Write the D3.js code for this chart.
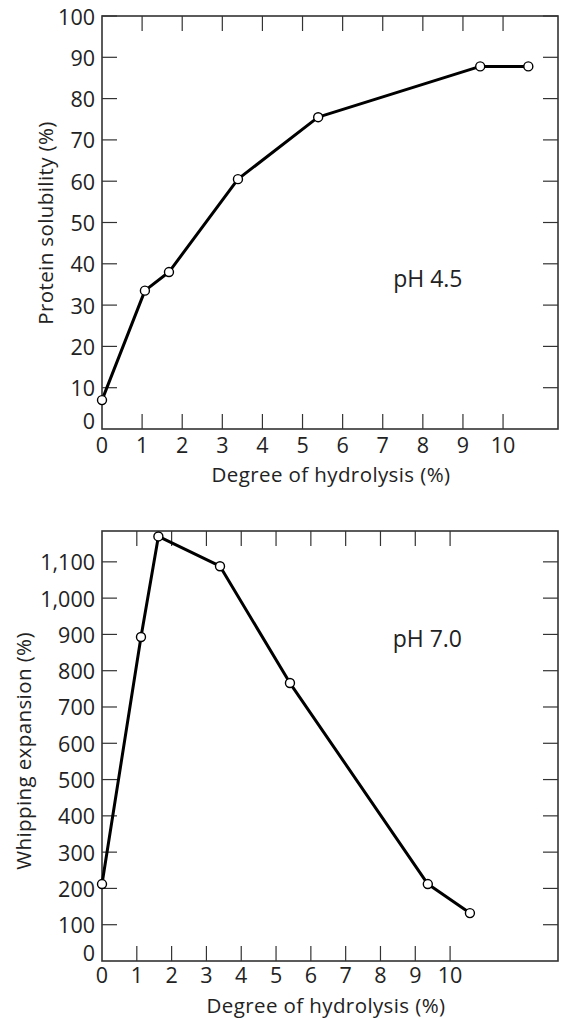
<!DOCTYPE html>
<html>
<head>
<meta charset="utf-8">
<script src="https://cdn.jsdelivr.net/npm/d3@7"></script>
<style>
  html, body { margin: 0; padding: 0; background: #fff; }
  svg { display: block; }
  text { font-family: "Open Sans", "DejaVu Sans", sans-serif; fill: #222; }
</style>
</head>
<body>
<svg id="chart" width="565" height="1018"></svg>
<script>
// ---- Data ----
const dhSolubility = [0, 1.07, 1.67, 3.39, 5.39, 9.43, 10.63];
const solubility = [7, 33.5, 38, 60.5, 75.5, 87.8, 87.8];

const dhWhipping = [0, 1.12, 1.62, 3.39, 5.40, 9.36, 10.57];
const whipping = [212, 893, 1170, 1088, 766, 212, 132];

const xTicks = [0, 1, 2, 3, 4, 5, 6, 7, 8, 9, 10];
const yTicksTop = [0, 10, 20, 30, 40, 50, 60, 70, 80, 90, 100];
const yTicksBottom = [0, 100, 200, 300, 400, 500, 600, 700, 800, 900, 1000, 1100];

const xTitle = "Degree of hydrolysis (%)";
const yTitleTop = "Protein solubility (%)";
const yTitleBottom = "Whipping expansion (%)";
const labelTop = "pH 4.5";
const labelBottom = "pH 7.0";

const svg = d3.select("#chart");
const TICK_FS = 21.5, TITLE_FS = 20.5, LABEL_FS = 23;

function panel(cfg) {
  const g = svg.append("g");
  const x = d3.scaleLinear().domain([0, cfg.xMax]).range([cfg.left, cfg.right]);
  const y = d3.scaleLinear().domain([0, cfg.yMax]).range([cfg.bottom, cfg.top]);
  const tick = 15;

  // ticks (inward) on all four sides
  const tickColor = "#333";
  g.selectAll(".tb").data(xTicks.filter(d => d > 0)).join("line")
    .attr("x1", d => x(d)).attr("x2", d => x(d))
    .attr("y1", cfg.bottom).attr("y2", cfg.bottom - tick)
    .attr("stroke", tickColor).attr("stroke-width", 1.2);
  g.selectAll(".tt").data(xTicks.filter(d => d > 0)).join("line")
    .attr("x1", d => x(d)).attr("x2", d => x(d))
    .attr("y1", cfg.top).attr("y2", cfg.top + tick)
    .attr("stroke", tickColor).attr("stroke-width", 1.2);
  g.selectAll(".tl").data(cfg.yTicks.filter(d => d > 0)).join("line")
    .attr("x1", cfg.left).attr("x2", cfg.left + tick)
    .attr("y1", d => y(d)).attr("y2", d => y(d))
    .attr("stroke", tickColor).attr("stroke-width", 1.2);
  g.selectAll(".tr").data(cfg.yTicks.filter(d => d > 0)).join("line")
    .attr("x1", cfg.right).attr("x2", cfg.right - tick)
    .attr("y1", d => y(d)).attr("y2", d => y(d))
    .attr("stroke", tickColor).attr("stroke-width", 1.2);

  // frame
  g.append("rect")
    .attr("x", cfg.left).attr("y", cfg.top)
    .attr("width", cfg.right - cfg.left).attr("height", cfg.bottom - cfg.top)
    .attr("fill", "none").attr("stroke", "#333").attr("stroke-width", 1.6);

  // tick labels
  g.selectAll(".xl").data(xTicks).join("text")
    .attr("x", d => x(d)).attr("y", cfg.bottom + cfg.xLabelDy)
    .attr("text-anchor", "middle").attr("font-size", TICK_FS)
    .text(d => d);
  g.selectAll(".yl").data(cfg.yTicks).join("text")
    .attr("x", cfg.left - 7).attr("y", d => y(d) + (d === 0 ? 0 : 8.5))
    .attr("text-anchor", "end").attr("font-size", TICK_FS)
    .text(d => cfg.fmt(d));

  // axis titles
  g.append("text")
    .attr("x", cfg.xTitleX).attr("y", cfg.bottom + cfg.xTitleDy)
    .attr("text-anchor", "middle").attr("font-size", TITLE_FS)
    .attr("letter-spacing", 0.4)
    .text(xTitle);
  g.append("text")
    .attr("transform", `translate(${cfg.yTitleX},${cfg.yTitleY}) rotate(-90)`)
    .attr("text-anchor", "middle").attr("font-size", TITLE_FS)
    .attr("letter-spacing", 0.4)
    .text(cfg.yTitle);

  // condition label
  g.append("text")
    .attr("x", x(cfg.labelX)).attr("y", y(cfg.labelY))
    .attr("font-size", LABEL_FS)
    .text(cfg.label);

  // series line
  const pts = cfg.xs.map((d, i) => [d, cfg.ys[i]]);
  g.append("path")
    .datum(pts)
    .attr("d", d3.line().x(d => x(d[0])).y(d => y(d[1])))
    .attr("fill", "none").attr("stroke", "#000").attr("stroke-width", 3)
    .attr("stroke-linejoin", "round");
  g.selectAll(".pt").data(pts).join("circle")
    .attr("cx", d => x(d[0])).attr("cy", d => y(d[1]))
    .attr("r", 4.5).attr("fill", "#fff").attr("stroke", "#000").attr("stroke-width", 1.4);
}

panel({
  left: 102, right: 558, top: 16, bottom: 429,
  xMax: 11.37, yMax: 100, yTicks: yTicksTop, fmt: d => d,
  xs: dhSolubility, ys: solubility,
  xLabelDy: 24, xTitleDy: 53, xTitleX: 331,
  yTitleX: 53, yTitleY: 223, yTitle: yTitleTop,
  label: labelTop, labelX: 7.26, labelY: 34.4
});

panel({
  left: 102, right: 558, top: 531, bottom: 961,
  xMax: 13.1, yMax: 1185, yTicks: yTicksBottom, fmt: d3.format(","),
  xs: dhWhipping, ys: whipping,
  xLabelDy: 22, xTitleDy: 51.5, xTitleX: 326,
  yTitleX: 31, yTitleY: 751, yTitle: yTitleBottom,
  label: labelBottom, labelX: 8.35, labelY: 866
});
</script>
</body>
</html>
